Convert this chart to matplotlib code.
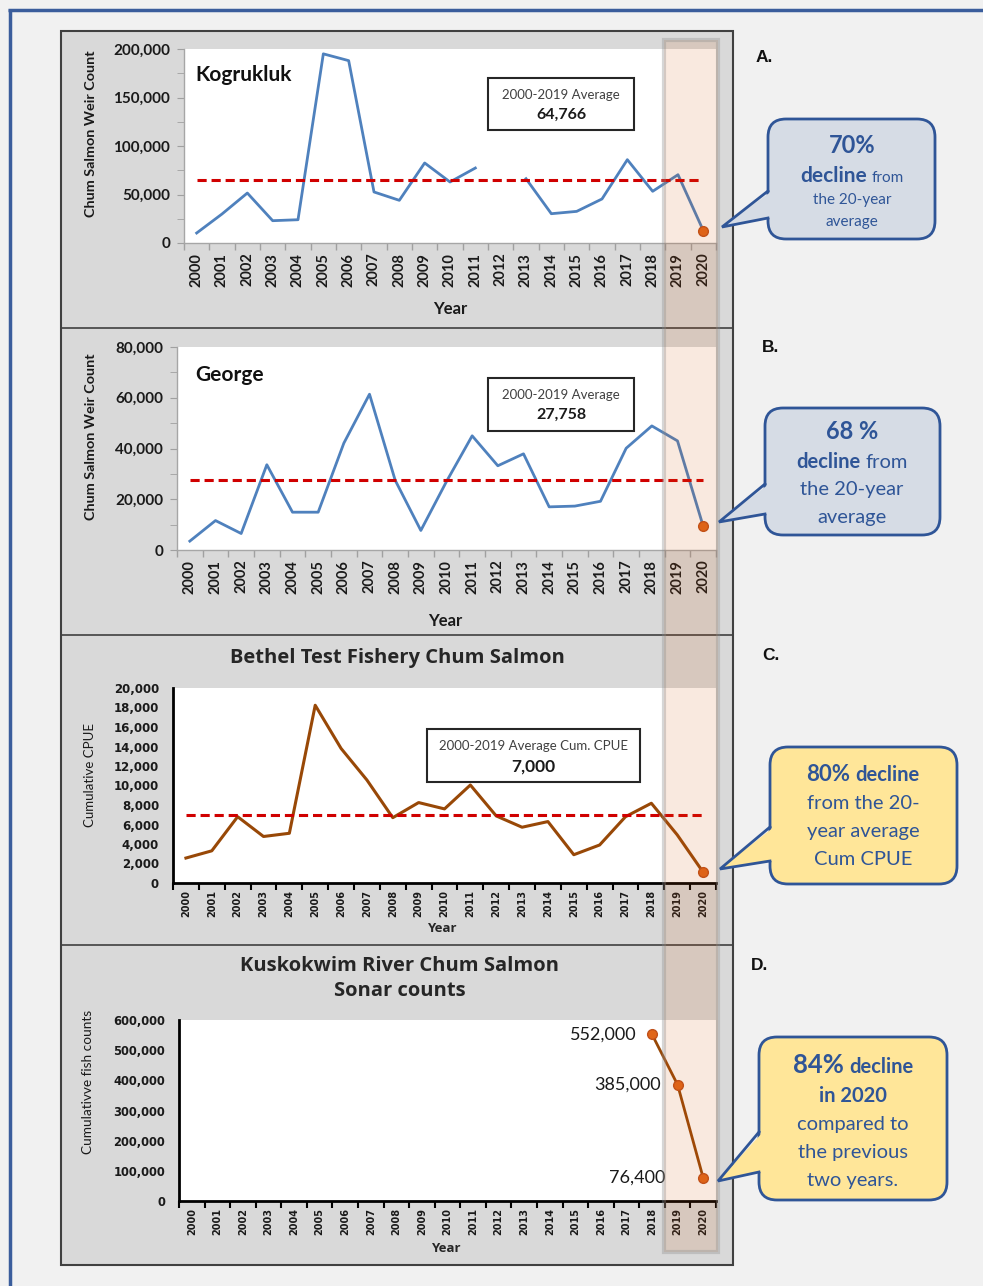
import numpy as np
import matplotlib
matplotlib.use('Agg')
import matplotlib.pyplot as plt
from matplotlib.patches import Rectangle, FancyBboxPatch, Polygon
from matplotlib.ticker import FuncFormatter, MultipleLocator

W, H = 983, 1286
plt.rcParams['font.family'] = ['Lato', 'DejaVu Sans']
WIDE = ['Open Sans', 'DejaVu Sans']

# ---------------- data ----------------
years = list(range(2000, 2021))
kogrukluk = [10300, 29900, 51500, 23000, 24000, 195000, 188000, 52600, 44000, 82500,
             62900, 77300, np.nan, 66300, 30200, 32600, 45400, 85900, 53300, 70400, 12700]
george = [3500, 11600, 6500, 33600, 14900, 14900, 42100, 61400, 27500, 7700,
          27000, 45000, 33200, 37900, 17000, 17300, 19200, 40100, 48900, 43000, 9400]
bethel = [2560, 3300, 6800, 4770, 5100, 18230, 13800, 10560, 6700, 8250,
          7600, 10050, 6880, 5720, 6300, 2900, 3900, 6800, 8180, 4940, 1120]
sonar_years = [2018, 2019, 2020]
sonar = [552000, 385000, 76400]
avg_kog = 64766
avg_george = 27758
avg_bethel = 7000

BLUE = '#4f81bd'
BROWN = '#984807'
ORANGE = '#e0661a'
RED = '#d00000'
TXTBLUE = '#2f5597'

fig = plt.figure(figsize=(W / 100, H / 100), dpi=100)
fig.patch.set_facecolor('#f1f1f1')

def px_axes(x0, x1, y0, y1, **kw):
    return fig.add_axes([x0 / W, 1 - y1 / H, (x1 - x0) / W, (y1 - y0) / H], **kw)

# background layer
bg = fig.add_axes([0, 0, 1, 1], zorder=0)
bg.set_xlim(0, W); bg.set_ylim(H, 0); bg.axis('off')
bg.add_patch(Rectangle((61, 31), 672, 1234, fc='#d9d9d9', ec='#404040', lw=1.5))
for ysep in [328, 635, 945]:
    bg.plot([61, 733], [ysep, ysep], color='#404040', lw=1.2)
bg.plot([8, W], [10, 10], color='#3a5d9c', lw=2.5, solid_capstyle='butt')
bg.plot([10, 10], [9, H], color='#3a5d9c', lw=2.5, solid_capstyle='butt')

thousands = FuncFormatter(lambda v, p: f'{int(round(v)):,}')

def cat_xaxis(ax, color, lw, size, pad, family=None):
    ax.set_xlim(1999.5, 2020.5)
    ax.set_xticks(years)
    kw = {}
    if family:
        kw['family'] = family
    ax.set_xticklabels([str(y) for y in years], rotation=90, fontsize=size,
                       fontweight='bold', color='#1a1a1a', **kw)
    ax.set_xticks(np.arange(1999.5, 2021, 1.0), minor=True)
    ax.tick_params(axis='x', which='major', length=0, pad=pad)
    ax.tick_params(axis='x', which='minor', length=5, width=lw, color=color, direction='out')

def style_spines(ax, color, lw):
    for s in ['top', 'right']:
        ax.spines[s].set_visible(False)
    for s in ['left', 'bottom']:
        ax.spines[s].set_color(color)
        ax.spines[s].set_linewidth(lw)

# ---------------- Panel A ----------------
axA = px_axes(184, 716, 49, 243, zorder=1)
axA.plot(years, kogrukluk, color=BLUE, lw=2)
axA.plot(years[-1], kogrukluk[-1], 'o', ms=7, mfc=ORANGE, mec='#c0501a', mew=1)
axA.plot([years[0], years[-1]], [avg_kog, avg_kog], color=RED, lw=2.2, dashes=(3, 1.6))
axA.set_ylim(0, 200000)
axA.yaxis.set_major_locator(MultipleLocator(50000))
axA.yaxis.set_minor_locator(MultipleLocator(25000))
axA.yaxis.set_major_formatter(thousands)
axA.tick_params(axis='y', which='both', length=5, color='#a0a0a0', direction='out',
                labelsize=11, pad=5)
for t in axA.get_yticklabels():
    t.set_fontweight('bold'); t.set_color('#1a1a1a')
cat_xaxis(axA, '#a0a0a0', 1, 10.5, 7)
style_spines(axA, '#a6a6a6', 1)

# ---------------- Panel B ----------------
axB = px_axes(177, 716, 347, 550, zorder=1)
axB.plot(years, george, color=BLUE, lw=2)
axB.plot(years[-1], george[-1], 'o', ms=7, mfc=ORANGE, mec='#c0501a', mew=1)
axB.plot([years[0], years[-1]], [avg_george, avg_george], color=RED, lw=2.2, dashes=(3, 1.6))
axB.set_ylim(0, 80000)
axB.yaxis.set_major_locator(MultipleLocator(20000))
axB.yaxis.set_minor_locator(MultipleLocator(10000))
axB.yaxis.set_major_formatter(thousands)
axB.tick_params(axis='y', which='both', length=5, color='#a0a0a0', direction='out',
                labelsize=11, pad=5)
for t in axB.get_yticklabels():
    t.set_fontweight('bold'); t.set_color('#1a1a1a')
cat_xaxis(axB, '#a0a0a0', 1, 10.5, 7)
style_spines(axB, '#a6a6a6', 1)

# ---------------- Panel C ----------------
axC = px_axes(173, 716, 688, 883, zorder=1)
axC.plot(years, bethel, color=BROWN, lw=2.2)
axC.plot(years[-1], bethel[-1], 'o', ms=7, mfc=ORANGE, mec='#c0501a', mew=1)
axC.plot([years[0], years[-1]], [avg_bethel, avg_bethel], color=RED, lw=2.2, dashes=(3, 1.6))
axC.set_ylim(0, 20000)
axC.yaxis.set_major_locator(MultipleLocator(2000))
axC.yaxis.set_major_formatter(thousands)
axC.tick_params(axis='y', length=0, labelsize=8.5, pad=10)
for t in axC.get_yticklabels():
    t.set_fontweight('bold'); t.set_color('#1a1a1a'); t.set_family(['DejaVu Sans'])
cat_xaxis(axC, 'black', 1.5, 7, 5, family=['DejaVu Sans'])
style_spines(axC, 'black', 2)

# ---------------- Panel D ----------------
axD = px_axes(179, 716, 1020, 1201, zorder=1)
axD.plot(sonar_years, sonar, color=BROWN, lw=2, marker='o', ms=7,
         mfc=ORANGE, mec='#c0501a', mew=1)
offsets = [-11, -12, -27]
for yr, v, off in zip(sonar_years, sonar, offsets):
    axD.annotate(f'{v:,}', (yr, v), xytext=(off, 0), textcoords='offset points',
                 ha='right', va='center', fontsize=13, color='#1a1a1a')
axD.set_ylim(0, 600000)
axD.yaxis.set_major_locator(MultipleLocator(100000))
axD.yaxis.set_major_formatter(thousands)
axD.tick_params(axis='y', length=0, labelsize=8.3, pad=10)
for t in axD.get_yticklabels():
    t.set_fontweight('bold'); t.set_color('#1a1a1a'); t.set_family(['DejaVu Sans'])
cat_xaxis(axD, 'black', 1.5, 7, 5, family=['DejaVu Sans'])
style_spines(axD, 'black', 2)

# ---------------- overlay ----------------
ov = fig.add_axes([0, 0, 1, 1], zorder=5)
ov.set_xlim(0, W); ov.set_ylim(H, 0); ov.axis('off')
ov.patch.set_alpha(0)

# axis labels and titles
ov.text(91, 134, 'Chum Salmon Weir Count', rotation=90, ha='center', va='center',
        fontsize=10.4, fontweight='bold', color='#1a1a1a')
ov.text(91, 437, 'Chum Salmon Weir Count', rotation=90, ha='center', va='center',
        fontsize=10.4, fontweight='bold', color='#1a1a1a')
ov.text(90, 775, 'Cumulative CPUE', rotation=90, ha='center', va='center',
        fontsize=9.5, color='#1a1a1a')
ov.text(88, 1082, 'Cumulativve fish counts', rotation=90, ha='center', va='center',
        fontsize=9.8, color='#1a1a1a')
ov.text(450, 309, 'Year', ha='center', va='center', fontsize=12, fontweight='bold', color='#1a1a1a')
ov.text(445, 621, 'Year', ha='center', va='center', fontsize=12, fontweight='bold', color='#1a1a1a')
ov.text(442, 929, 'Year', ha='center', va='center', fontsize=9.5, fontweight='bold',
        family=WIDE, color='#262626')
ov.text(446, 1249, 'Year', ha='center', va='center', fontsize=9.5, fontweight='bold',
        family=WIDE, color='#262626')
ov.text(195, 75, 'Kogrukluk', ha='left', va='center', fontsize=15, fontweight='bold', color='#111111')
ov.text(195, 375, 'George', ha='left', va='center', fontsize=15, fontweight='bold', color='#111111')
ov.text(397, 658, 'Bethel Test Fishery Chum Salmon', ha='center', va='center',
        fontsize=14.5, fontweight='bold', family=WIDE, color='#262626')
ov.text(400, 966, 'Kuskokwim River Chum Salmon', ha='center', va='center',
        fontsize=14.5, fontweight='bold', family=WIDE, color='#262626')
ov.text(400, 991, 'Sonar counts', ha='center', va='center',
        fontsize=14.5, fontweight='bold', family=WIDE, color='#262626')

# average boxes
def avg_box(x0, y0, x1, y1, line1, line2, s1, s2):
    ov.add_patch(Rectangle((x0, y0), x1 - x0, y1 - y0, fc='white', ec='#262626', lw=1.5))
    ov.text((x0 + x1) / 2, y0 + (y1 - y0) * 0.33, line1, ha='center', va='center',
            fontsize=s1, color='#404040')
    ov.text((x0 + x1) / 2, y0 + (y1 - y0) * 0.70, line2, ha='center', va='center',
            fontsize=s2, fontweight='bold', color='#1a1a1a')

avg_box(488, 78, 634, 130, '2000-2019 Average', f'{avg_kog:,}', 9.5, 11.5)
avg_box(488, 378, 634, 431, '2000-2019 Average', f'{avg_george:,}', 9.5, 11.5)
avg_box(427, 729, 640, 782, '2000-2019 Average Cum. CPUE', f'{avg_bethel:,}', 9.5, 12.5)

# highlight column
ov.add_patch(Rectangle((664, 40), 54, 1212, fc=(209 / 255, 86 / 255, 9 / 255, 0.13),
                       ec=(0.55, 0.55, 0.55, 0.35), lw=3))

# panel letters
for lab, x, y in [('A.', 756, 57), ('B.', 762, 347), ('C.', 762, 656), ('D.', 751, 966)]:
    ov.text(x, y, lab, ha='left', va='center', fontsize=12.5, fontweight='bold',
            family=['Liberation Sans', 'DejaVu Sans'], color='#111111')

# callouts
def callout(x0, y0, x1, y1, tb1, tb2, tip, fc):
    ov.add_patch(FancyBboxPatch((x0, y0), x1 - x0, y1 - y0,
                                boxstyle='round,pad=0,rounding_size=18',
                                fc=fc, ec=TXTBLUE, lw=2, zorder=3))
    ov.add_patch(Polygon([(x0 + 4, tb1), tip, (x0 + 4, tb2)], closed=True,
                         fc=fc, ec='none', zorder=4))
    ov.plot([x0, tip[0], x0], [tb1, tip[1], tb2], color=TXTBLUE, lw=2, zorder=5,
            solid_joinstyle='miter')

callout(768, 119, 935, 239, 191, 218, (722, 227), '#d6dce5')
callout(765, 408, 940, 535, 484, 514, (719, 522), '#d6dce5')
callout(770, 747, 957, 884, 827, 861, (720, 869), '#ffe699')
callout(759, 1037, 947, 1200, 1132, 1172, (718, 1181), '#ffe699')

renderer = fig.canvas.get_renderer()

def mixed_line(xc, ycenter, parts):
    texts = []
    maxsize = max(p[1] for p in parts)
    yb = ycenter + 0.30 * maxsize * 100 / 72
    for s, size, weight in parts:
        t = ov.text(0, yb, s, fontsize=size, fontweight=weight, color=TXTBLUE,
                    ha='left', va='baseline', zorder=6)
        texts.append((t, size))
    widths = [t.get_window_extent(renderer).width for t, _ in texts]
    gaps = [0.25 * texts[i + 1][1] * 100 / 72 for i in range(len(texts) - 1)]
    total = sum(widths) + sum(gaps)
    x = xc - total / 2
    for i, ((t, _), w) in enumerate(zip(texts, widths)):
        t.set_x(x)
        x += w + (gaps[i] if i < len(gaps) else 0)

B, R = 'bold', 'normal'
mixed_line(852, 146, [('70%', 17, B)])
mixed_line(852, 176, [('decline', 15, B), ('from', 11, R)])
mixed_line(852, 199, [('the 20-year', 11, R)])
mixed_line(852, 221, [('average', 11, R)])

mixed_line(852, 432, [('68 %', 17, B)])
mixed_line(852, 462, [('decline', 14.5, B), ('from', 14.5, R)])
mixed_line(852, 489, [('the 20-year', 14.5, R)])
mixed_line(852, 517, [('average', 14.5, R)])

mixed_line(863, 774, [('80%', 16, B), ('decline', 14.5, B)])
mixed_line(863, 803, [('from the 20-', 14.5, R)])
mixed_line(863, 831, [('year average', 14.5, R)])
mixed_line(863, 859, [('Cum CPUE', 14.5, R)])

mixed_line(853, 1065, [('84%', 18.5, B), ('decline', 14.5, B)])
mixed_line(853, 1096, [('in 2020', 14.5, B)])
mixed_line(853, 1124, [('compared to', 14.5, R)])
mixed_line(853, 1152, [('the previous', 14.5, R)])
mixed_line(853, 1180, [('two years.', 14.5, R)])

fig.savefig('out.png', dpi=100, facecolor=fig.get_facecolor())
